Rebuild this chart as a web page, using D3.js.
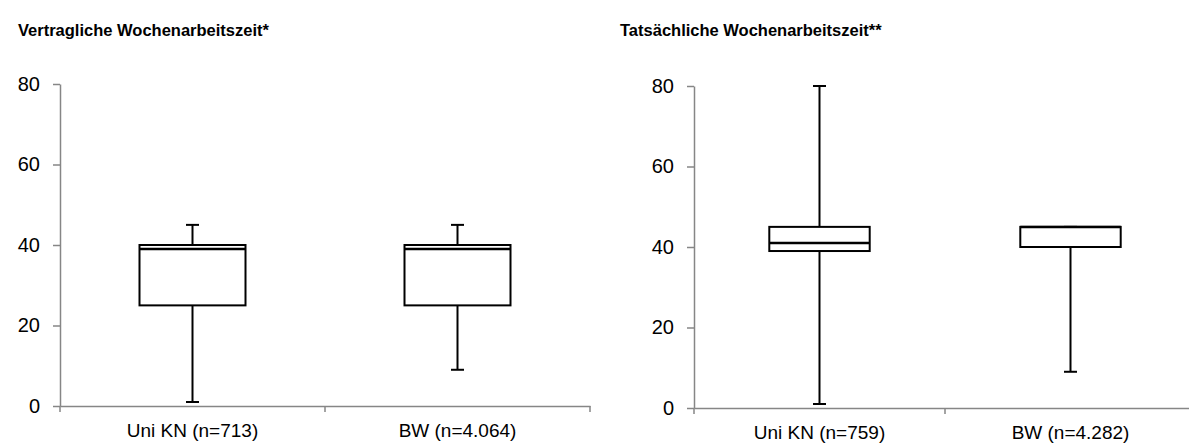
<!DOCTYPE html>
<html>
<head>
<meta charset="utf-8">
<script src="https://cdn.jsdelivr.net/npm/d3@7"></script>
<style>
  html, body { margin: 0; padding: 0; background: #fff; }
  svg { display: block; font-family: "Liberation Sans", Arial, sans-serif; }
</style>
</head>
<body>
<svg id="chart" width="1189" height="448"></svg>
<script>
// ---- data ----
const panelTitles = ["Vertragliche Wochenarbeitszeit*", "Tatsächliche Wochenarbeitszeit**"];
const categoriesLeft = ["Uni KN (n=713)", "BW (n=4.064)"];
const categoriesRight = ["Uni KN (n=759)", "BW (n=4.282)"];
// [min, q1, median, q3, max]
const statsLeft = [
  [1, 25, 39, 40, 45],
  [9, 25, 39, 40, 45]
];
const statsRight = [
  [1, 39, 41, 45, 80],
  [9, 40, 45, 45, 45]
];
const yTicks = [0, 20, 40, 60, 80];

// ---- layout ----
const svg = d3.select("#chart");
const panels = [
  { title: panelTitles[0], cats: categoriesLeft, stats: statsLeft,
    titleX: 18, x0: 60, x1: 590, y0: 406, y1: 84 },
  { title: panelTitles[1], cats: categoriesRight, stats: statsRight,
    titleX: 620, x0: 694, x1: 1196, y0: 408, y1: 86 }
];

panels.forEach(p => {
  const g = svg.append("g");
  g.append("text")
    .attr("x", p.titleX).attr("y", 36)
    .attr("font-size", 16.5).attr("font-weight", "bold").attr("fill", "#000")
    .text(p.title);

  const x = d3.scaleBand().domain(p.cats).range([p.x0, p.x1]).paddingInner(0).paddingOuter(0);
  const y = d3.scaleLinear().domain([0, 80]).range([p.y0, p.y1]);

  // y axis
  const yAx = g.append("g").attr("transform", `translate(${p.x0},0)`)
    .call(d3.axisLeft(y).tickValues(yTicks).tickSize(7).tickPadding(13).tickSizeOuter(0));
  yAx.select(".domain").attr("stroke", "#868686").attr("stroke-width", 1.5);
  yAx.selectAll(".tick line").attr("stroke", "#868686").attr("stroke-width", 1.5);
  yAx.selectAll(".tick text").attr("font-size", 20).attr("fill", "#000")
    .attr("font-family", "Liberation Sans, Arial, sans-serif");

  // x axis
  const xAx = g.append("g").attr("transform", `translate(0,${p.y0})`)
    .call(d3.axisBottom(x).tickSize(0).tickPadding(18));
  xAx.select(".domain").attr("stroke", "#868686").attr("stroke-width", 1.5);
  xAx.selectAll(".tick text").attr("font-size", 19).attr("fill", "#000")
    .attr("font-family", "Liberation Sans, Arial, sans-serif");
  // category boundary ticks
  const bounds = [p.x0, ...p.cats.map(c => x(c) + x.bandwidth())];
  g.append("g").selectAll("line").data(bounds).join("line")
    .attr("x1", d => d).attr("x2", d => d)
    .attr("y1", p.y0).attr("y2", p.y0 + 6)
    .attr("stroke", "#868686").attr("stroke-width", 1.5);

  // boxes
  const boxW = x.bandwidth() * 0.4;
  const capW = 13;
  p.cats.forEach((c, i) => {
    const [mn, q1, md, q3, mx] = p.stats[i];
    const cx = x(c) + x.bandwidth() / 2;
    const bg = g.append("g").attr("stroke", "#000").attr("stroke-width", 2).attr("fill", "none");
    // whiskers
    bg.append("line").attr("x1", cx).attr("x2", cx).attr("y1", y(q3)).attr("y2", y(mx));
    bg.append("line").attr("x1", cx).attr("x2", cx).attr("y1", y(q1)).attr("y2", y(mn));
    bg.append("line").attr("x1", cx - capW / 2).attr("x2", cx + capW / 2).attr("y1", y(mx)).attr("y2", y(mx));
    bg.append("line").attr("x1", cx - capW / 2).attr("x2", cx + capW / 2).attr("y1", y(mn)).attr("y2", y(mn));
    // box
    bg.append("rect").attr("x", cx - boxW / 2).attr("y", y(q3))
      .attr("width", boxW).attr("height", y(q1) - y(q3)).attr("fill", "#fff");
    // median
    bg.append("line").attr("x1", cx - boxW / 2).attr("x2", cx + boxW / 2)
      .attr("y1", y(md)).attr("y2", y(md)).attr("stroke-width", 2.5);
  });
});
</script>
</body>
</html>
